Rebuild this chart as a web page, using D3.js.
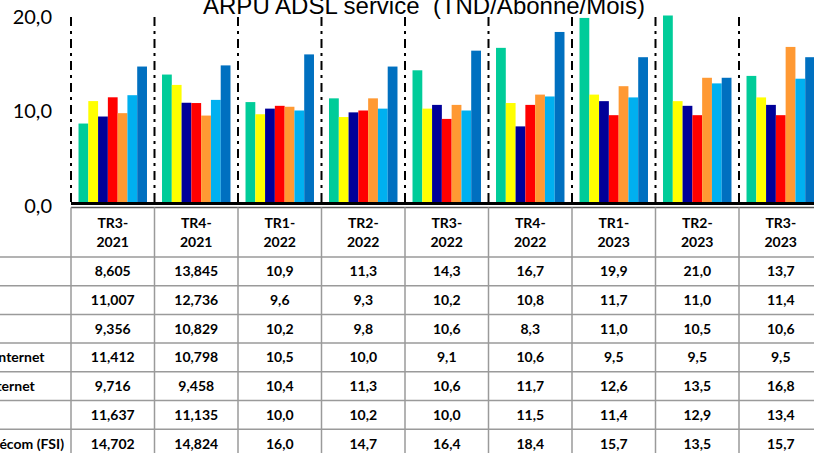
<!DOCTYPE html>
<html>
<head>
<meta charset="utf-8">
<script src="https://cdn.jsdelivr.net/npm/d3@7"></script>
<style>
  body { margin: 0; background: #fff; }
  svg { display: block; }
</style>
</head>
<body>
<div id="chart"></div>
<script>
// quarters shown on the x axis / table header
const categories = ["TR3-2021", "TR4-2021", "TR1-2022", "TR2-2022", "TR3-2022", "TR4-2022", "TR1-2023", "TR2-2023", "TR3-2023"];
const decimals = [3, 3, 1, 1, 1, 1, 1, 1, 1];

// one row per provider (row labels are cut off on the left in the original)
const seriesNames = ["Topnet", "Globalnet", "Hexabyte", "Ooredoo Internet", "Orange Internet", "Divona", "Tunisie Télécom (FSI)"];
const seriesColors = ["#00CC99", "#FFFF00", "#000099", "#FF0000", "#FF9933", "#00B0F0", "#0070C0"];

const s1 = [8.605, 13.845, 10.9, 11.3, 14.3, 16.7, 19.9, 21.0, 13.7];
const s2 = [11.007, 12.736, 9.6, 9.3, 10.2, 10.8, 11.7, 11.0, 11.4];
const s3 = [9.356, 10.829, 10.2, 9.8, 10.6, 8.3, 11.0, 10.5, 10.6];
const s4 = [11.412, 10.798, 10.5, 10.0, 9.1, 10.6, 9.5, 9.5, 9.5];
const s5 = [9.716, 9.458, 10.4, 11.3, 10.6, 11.7, 12.6, 13.5, 16.8];
const s6 = [11.637, 11.135, 10.0, 10.2, 10.0, 11.5, 11.4, 12.9, 13.4];
const s7 = [14.702, 14.824, 16.0, 14.7, 16.4, 18.4, 15.7, 13.5, 15.7];
const seriesValues = [s1, s2, s3, s4, s5, s6, s7];

const yTicks = [0, 10, 20];

const width = 814;
const height = 453;

const svg = d3.select("#chart")
  .append("svg")
  .attr("width", width)
  .attr("height", height)
  .style("background-color", "#fff");

// plot geometry
const left = 71;
const step = 83.5;
const baseY = 204;

const x = d3.scaleBand()
  .domain(categories)
  .range([left, left + step * categories.length])
  .paddingInner(0.18)
  .paddingOuter(0.09);

const xSub = d3.scaleBand()
  .domain(d3.range(seriesNames.length))
  .range([0, x.bandwidth()]);

const y = d3.scaleLinear()
  .domain([0, 20])
  .range([baseY, 17]);

const commaFmt = (v, d) => d3.format("." + d + "f")(v).replace(".", ",");

// title (top is cut off in the original)
svg.append("text")
  .attr("x", 424)
  .attr("y", 13.5)
  .attr("text-anchor", "middle")
  .style("white-space", "pre")
  .attr("font-family", "'Liberation Sans', Arial, sans-serif")
  .attr("font-size", "24px")
  .attr("fill", "#000")
  .text("ARPU ADSL service  (TND/Abonné/Mois)");

// y labels
svg.append("g")
  .selectAll("text")
  .data(yTicks)
  .enter().append("text")
  .attr("x", 52)
  .attr("y", d => y(d) + (d === 0 ? 2 : 0))
  .attr("dy", "0.36em")
  .attr("text-anchor", "end")
  .attr("font-family", "Lato, 'Open Sans', sans-serif")
  .attr("font-size", "20px")
  .attr("fill", "#000")
  .text(d => commaFmt(d, 1));

// clip bars that go above the axis max
svg.append("clipPath")
  .attr("id", "plotclip")
  .append("rect")
  .attr("x", left)
  .attr("y", y(20) - 1.5)
  .attr("width", width)
  .attr("height", baseY - y(20) + 1.5);

// bars
const groups = svg.append("g")
  .attr("clip-path", "url(#plotclip)")
  .selectAll("g")
  .data(categories)
  .enter().append("g")
  .attr("transform", d => `translate(${x(d)},0)`);

groups.selectAll("rect")
  .data((c, ci) => seriesValues.map((vals, si) => ({ si, v: vals[ci] })))
  .enter().append("rect")
  .attr("x", d => xSub(d.si))
  .attr("y", d => y(d.v))
  .attr("width", xSub.bandwidth())
  .attr("height", d => baseY - y(d.v))
  .attr("fill", d => seriesColors[d.si]);

// dash-dot separators between quarters
svg.append("g")
  .selectAll("line")
  .data(categories)
  .enter().append("line")
  .attr("x1", d => x(d) - x.step() * 0.09)
  .attr("x2", d => x(d) - x.step() * 0.09)
  .attr("y1", y(20))
  .attr("y2", baseY - 1)
  .attr("stroke", "#000")
  .attr("stroke-width", 2)
  .attr("stroke-dasharray", "9,5,3,5");

// data table
const tableTop = 207.5;
const headerH = 49.5;
const rowH = 28.7;
const gridColor = "#9a9a9a";
const tableFont = "Lato, 'Open Sans', sans-serif";

// axis base (thick black) and table top border
svg.append("line")
  .attr("x1", left).attr("x2", width)
  .attr("y1", baseY - 0.5).attr("y2", baseY - 0.5)
  .attr("stroke", "#000").attr("stroke-width", 3);

svg.append("line")
  .attr("x1", left).attr("x2", width)
  .attr("y1", tableTop).attr("y2", tableTop)
  .attr("stroke", "#555").attr("stroke-width", 1.5);

// horizontal row lines
svg.append("g")
  .selectAll("line")
  .data(d3.range(seriesNames.length + 1))
  .enter().append("line")
  .attr("x1", 0).attr("x2", width)
  .attr("y1", i => tableTop + headerH + i * rowH)
  .attr("y2", i => tableTop + headerH + i * rowH)
  .attr("stroke", gridColor)
  .attr("stroke-width", 1.5);

// vertical column lines
svg.append("g")
  .selectAll("line")
  .data(categories)
  .enter().append("line")
  .attr("x1", d => x(d) - x.step() * 0.09)
  .attr("x2", d => x(d) - x.step() * 0.09)
  .attr("y1", tableTop)
  .attr("y2", height)
  .attr("stroke", gridColor)
  .attr("stroke-width", 1.5);

// header (two lines per quarter)
const header = svg.append("g")
  .selectAll("text")
  .data(categories)
  .enter().append("text")
  .attr("text-anchor", "middle")
  .attr("font-family", tableFont)
  .attr("font-weight", "bold")
  .attr("font-size", "14px")
  .attr("fill", "#000");

header.append("tspan")
  .attr("x", d => x(d) + x.bandwidth() / 2)
  .attr("y", 227.5)
  .text(d => d.split("-")[0] + "-");

header.append("tspan")
  .attr("x", d => x(d) + x.bandwidth() / 2)
  .attr("y", 247)
  .text(d => d.split("-")[1]);

// row labels, left aligned and partly off-canvas
const labels = svg.append("g")
  .selectAll("text")
  .data(seriesNames)
  .enter().append("text")
  .attr("y", (d, i) => tableTop + headerH + i * rowH + rowH / 2)
  .attr("dy", "0.36em")
  .attr("font-family", tableFont)
  .attr("font-weight", "bold")
  .attr("font-size", "14px")
  .attr("fill", "#000")
  .text(d => d);

const longest = labels.filter((d, i) => i === seriesNames.length - 1).node().getComputedTextLength();
labels.attr("x", 64 - longest);

// values
seriesValues.forEach((vals, si) => {
  svg.append("g")
    .selectAll("text")
    .data(vals)
    .enter().append("text")
    .attr("x", (d, ci) => x(categories[ci]) + x.bandwidth() / 2)
    .attr("y", tableTop + headerH + si * rowH + rowH / 2)
    .attr("dy", "0.36em")
    .attr("text-anchor", "middle")
    .attr("font-family", tableFont)
    .attr("font-weight", "bold")
    .attr("font-size", "14px")
    .attr("fill", "#000")
    .text((d, ci) => commaFmt(d, decimals[ci]));
});
</script>
</body>
</html>
